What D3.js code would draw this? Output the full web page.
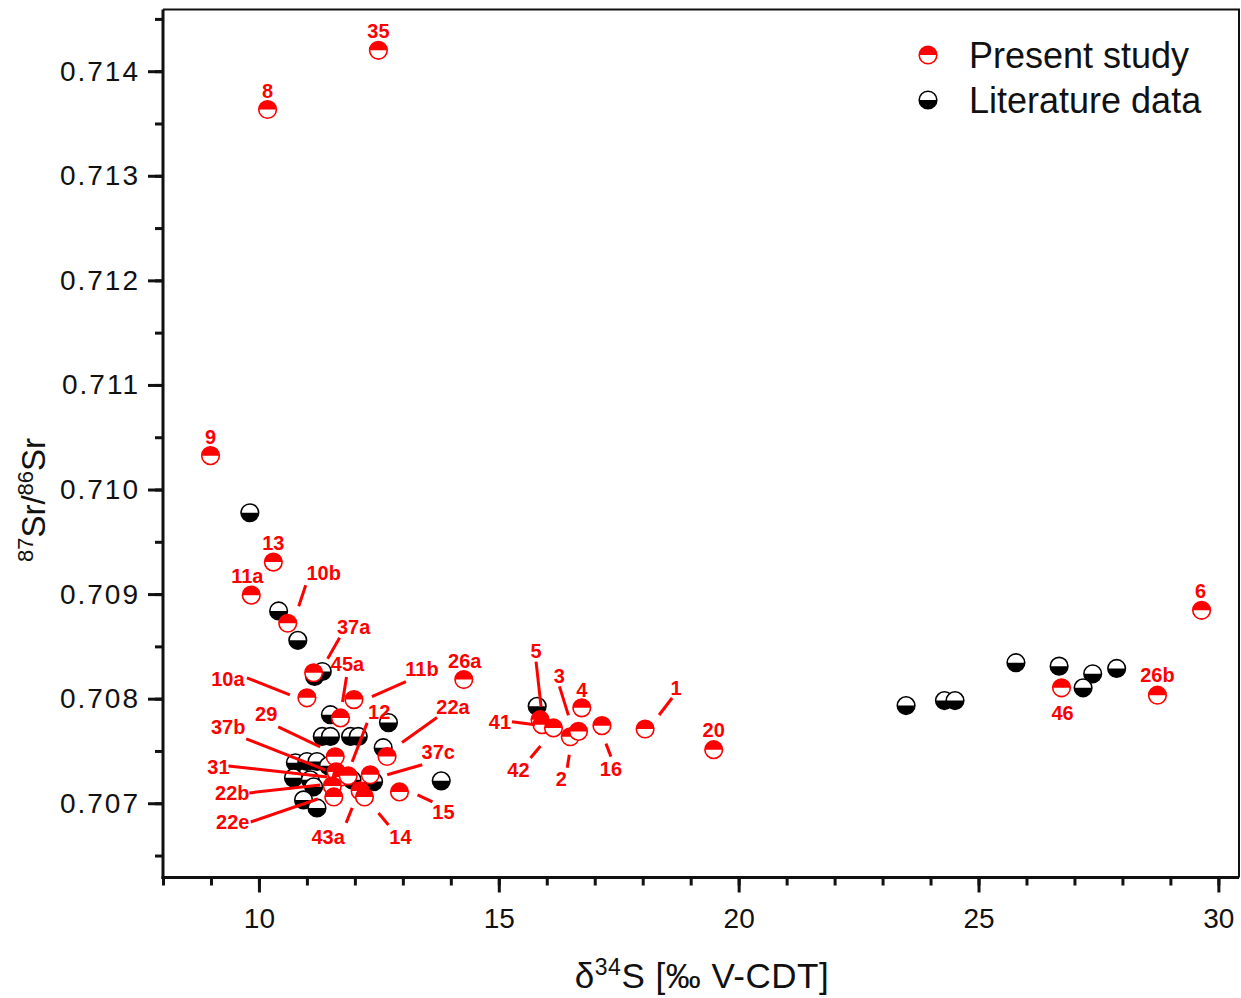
<!DOCTYPE html>
<html>
<head>
<meta charset="utf-8">
<script src="https://cdn.jsdelivr.net/npm/d3@7"></script>
<style>
  body { margin: 0; background: #fff; }
  svg { display: block; font-family: "Liberation Sans", Arial, sans-serif; }
</style>
</head>
<body>
<div id="chart"></div>
<script>
/* ---------------- data ---------------- */

// Present study (red): sample id, d34S, 87Sr/86Sr
const presentIds = ["35","8","9","13","11a","10b","37a","10a","11b","45a","26a",
  "29","22a","37b","31","12","37c","22b","43a","14","22e","15",
  "5","41","42","2","3","4","16","1","20","46","26b","6"];
const presentS = [12.49,10.18,8.99,10.30,9.84,10.60,11.14,11.00,11.98,11.70,14.27,
  11.59,12.67,11.61,11.72,11.86,12.32,11.53,12.11,12.20,11.56,12.93,
  15.86,15.90,16.14,16.49,16.66,16.73,17.15,18.05,19.48,26.73,28.73,29.65];
const presentSr = [0.714200,0.713634,0.710324,0.709306,0.708990,0.708721,0.708248,0.708008,0.707991,0.707816,0.708183,
  0.707444,0.707447,0.707300,0.707252,0.707262,0.707272,0.707166,0.707118,0.707060,0.707060,0.707108,
  0.707799,0.707751,0.707720,0.707636,0.707687,0.707912,0.707742,0.707710,0.707512,0.708104,0.708033,0.708845];

// Literature data (black)
const litS = [9.81,10.41,10.81,11.16,11.32,11.49,11.32,11.49,11.91,12.07,12.70,12.59,13.80,
  10.76,11.00,11.21,10.72,11.07,11.14,10.93,11.21,11.94,12.39,11.45,
  15.80,23.49,24.29,24.51,25.78,26.68,27.38,27.18,27.88];
const litSr = [0.709778,0.708839,0.708558,0.708212,0.708260,0.707847,0.707639,0.707639,0.707639,0.707639,0.707771,0.707531,0.707214,
  0.707387,0.707399,0.707399,0.707243,0.707224,0.707157,0.707032,0.706955,0.707224,0.707207,0.707358,
  0.707927,0.707934,0.707982,0.707982,0.708344,0.708311,0.708238,0.708104,0.708289];

const xTicks = [10, 15, 20, 25, 30];
const yTicks = [0.707, 0.708, 0.709, 0.710, 0.711, 0.712, 0.713, 0.714];
const legendItems = ["Present study", "Literature data"];

/* label layout: offsets (px) from the point, [label dx, dy, line x1, y1, x2, y2] */
const labelLayout = {
  "35": [0,-19], "8": [0,-19], "9": [0,-19], "13": [0,-19], "11a": [-4,-19],
  "10b": [36,-50, 18,-38, 11,-17],
  "37a": [40,-46, 26,-35, 14,-14],
  "10a": [-79,-19, -60,-20, -17,-3],
  "11b": [68,-31, 52,-18, 18,-3],
  "45a": [7,-54, 6,-41, 2,-16],
  "26a": [1,-19],
  "29": [-69,-43, -57,-30, -15,-10],
  "22a": [66,-50, 50,-39, 15,-14],
  "37b": [-108,-45, -90,-33, -11,-2],
  "31": [-123,-10, -113,-11, -14,0],
  "12": [31,-64, 19,-53, 4,-14],
  "37c": [68,-23, 52,-10, 17,0],
  "22b": [-100,7, -83,7, -12,-1],
  "43a": [-32,46, -8,17, -14,32],
  "14": [36,40, 14,16, 24,28],
  "22e": [-101,25, -83,25, -16,2],
  "15": [44,20, 18,3, 33,10],
  "5": [-4,-69, -4,-58, 1,-13],
  "41": [-42,-3, -30,-3, -7,0],
  "42": [-35,42, -13,18, -23,30],
  "2": [-9,42, -1,18, -3,31],
  "3": [-19,-56, -19,-45, -10,-16],
  "4": [0,-18],
  "16": [9,43, 4,18, 9,31],
  "1": [31,-41, 27,-31, 14,-14],
  "20": [0,-20], "46": [1,25], "26b": [0,-20], "6": [-1,-20]
};

/* ---------------- setup ---------------- */

const width = 1241, height = 998;
const plotLeft = 163, plotRight = 1239, plotTop = 9.5, plotBottom = 877.5;
const RED = "#ff0000";
const R = 8.8;

const svg = d3.select("#chart").append("svg")
  .attr("width", width)
  .attr("height", height);

const x = d3.scaleLinear().domain([8, 30.43]).range([plotLeft, plotRight]);
const y = d3.scaleLinear().domain([0.70629, 0.71459]).range([plotBottom, plotTop]);

// frame (top + right thin)
svg.append("path")
  .attr("d", `M${plotLeft},${plotTop}H${plotRight}V${plotBottom}`)
  .attr("fill", "none")
  .attr("stroke", "#111")
  .attr("stroke-width", 2);

/* ---------------- axes ---------------- */

const xMinor = d3.range(8, 31, 1);
const yMinor = d3.range(0.7065, 0.7146, 0.0005);

const xAxisG = svg.append("g").attr("transform", `translate(0,${plotBottom})`);
xAxisG.append("g")
  .call(d3.axisBottom(x).tickValues(xMinor).tickSize(8).tickFormat(""))
  .call(g => g.select(".domain").remove());
xAxisG.append("g")
  .call(d3.axisBottom(x).tickValues(xTicks).tickSize(15).tickPadding(16).tickFormat(d3.format("d")))
  .call(g => g.select(".domain").remove())
  .call(g => g.selectAll("text").attr("font-size", 28).attr("fill", "#111")
    .attr("font-family", "'Liberation Sans', Arial, sans-serif"));
xAxisG.selectAll(".tick line").attr("stroke", "#111").attr("stroke-width", 3);
xAxisG.append("line").attr("x1", plotLeft - 1.5).attr("x2", plotRight).attr("stroke", "#111").attr("stroke-width", 3);

const yAxisG = svg.append("g").attr("transform", `translate(${plotLeft},0)`);
yAxisG.append("g")
  .call(d3.axisLeft(y).tickValues(yMinor).tickSize(8).tickFormat(""))
  .call(g => g.select(".domain").remove());
yAxisG.append("g")
  .call(d3.axisLeft(y).tickValues(yTicks).tickSize(15).tickPadding(8).tickFormat(d3.format(".3f")))
  .call(g => g.select(".domain").remove())
  .call(g => g.selectAll("text").attr("font-size", 28).attr("fill", "#111")
    .attr("font-family", "'Liberation Sans', Arial, sans-serif").attr("letter-spacing", 2));
yAxisG.selectAll(".tick line").attr("stroke", "#111").attr("stroke-width", 3);
yAxisG.append("line").attr("y1", plotTop).attr("y2", plotBottom + 1.5).attr("stroke", "#111").attr("stroke-width", 3);

// axis titles
const xt = svg.append("text")
  .attr("x", 702)
  .attr("y", 988)
  .attr("text-anchor", "middle")
  .attr("font-size", 35)
  .attr("letter-spacing", 0.5)
  .attr("fill", "#111");
xt.append("tspan").text("δ");
xt.append("tspan").attr("font-size", 23).attr("dy", -13).text("34");
xt.append("tspan").attr("dy", 13).text("S [‰ V-CDT]");

const yt = svg.append("text")
  .attr("transform", `translate(45,500) rotate(-90)`)
  .attr("text-anchor", "middle")
  .attr("font-size", 33)
  .attr("fill", "#111");
yt.append("tspan").attr("font-size", 22).attr("dy", -12).text("87");
yt.append("tspan").attr("dy", 12).text("Sr/");
yt.append("tspan").attr("font-size", 22).attr("dy", -12).text("86");
yt.append("tspan").attr("dy", 12).text("Sr");

/* ---------------- markers ---------------- */

function halfMarker(g, color, topHalf) {
  g.append("circle").attr("r", R).attr("fill", "#fff");
  g.append("path")
    .attr("d", topHalf
      ? `M${-R},0A${R},${R} 0 0 1 ${R},0Z`
      : `M${-R},0A${R},${R} 0 0 0 ${R},0Z`)
    .attr("fill", color);
  g.append("circle").attr("r", R).attr("fill", "none")
    .attr("stroke", color).attr("stroke-width", 1.6);
}

const litData = litS.map((s, i) => ({ s, sr: litSr[i] }));
const presData = presentIds.map((id, i) => ({ id, s: presentS[i], sr: presentSr[i] }));

svg.append("g").selectAll("g")
  .data(litData)
  .join("g")
  .attr("transform", d => `translate(${x(d.s)},${y(d.sr)})`)
  .each(function () { halfMarker(d3.select(this), "#000", false); });

svg.append("g").selectAll("g")
  .data(presData)
  .join("g")
  .attr("transform", d => `translate(${x(d.s)},${y(d.sr)})`)
  .each(function () { halfMarker(d3.select(this), RED, true); });

/* ---------------- labels ---------------- */

const lab = svg.append("g");
presData.forEach(d => {
  const L = labelLayout[d.id];
  if (!L) return;
  const px = x(d.s), py = y(d.sr);
  if (L.length > 2) {
    lab.append("line")
      .attr("x1", px + L[2]).attr("y1", py + L[3])
      .attr("x2", px + L[4]).attr("y2", py + L[5])
      .attr("stroke", RED).attr("stroke-width", 3);
  }
  lab.append("text")
    .attr("x", px + L[0]).attr("y", py + L[1])
    .attr("dy", "0.36em")
    .attr("text-anchor", "middle")
    .attr("font-size", 20)
    .attr("font-weight", "bold")
    .attr("fill", RED)
    .text(d.id);
});

/* ---------------- legend ---------------- */

const leg = svg.append("g");
legendItems.forEach((name, i) => {
  const g = leg.append("g").attr("transform", `translate(928,${55 + i * 45})`);
  halfMarker(g, i === 0 ? RED : "#000", i === 0);
  g.append("text")
    .attr("x", 41).attr("dy", "0.36em")
    .attr("font-size", 36)
    .attr("fill", "#111")
    .text(name);
});
</script>
</body>
</html>
